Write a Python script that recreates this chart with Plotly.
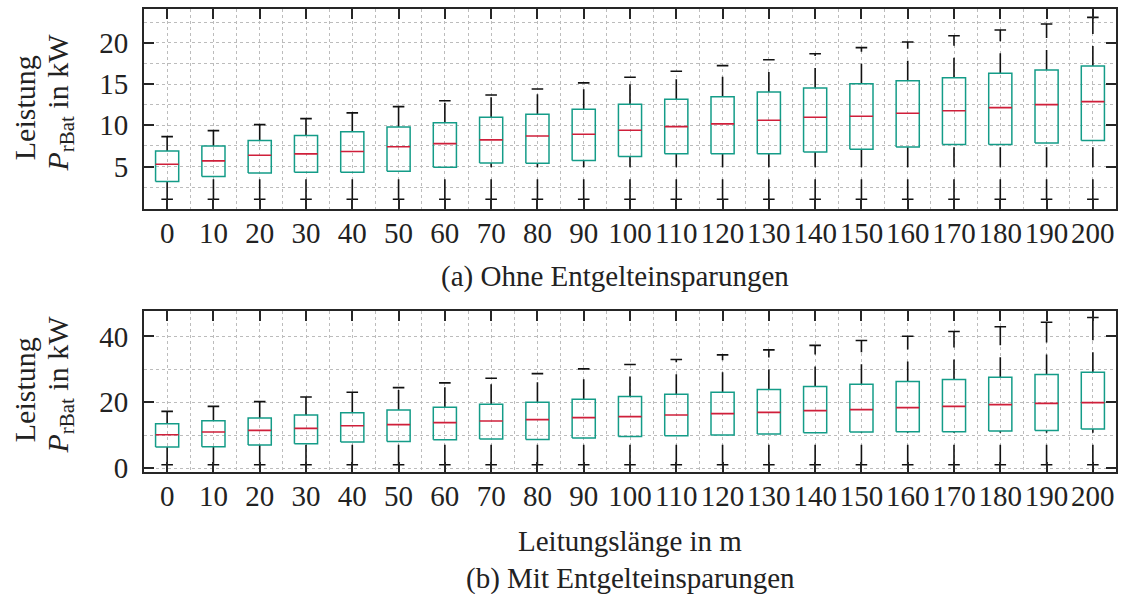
import plotly.graph_objects as go

# Leitungslänge in m
lengths = [0, 10, 20, 30, 40, 50, 60, 70, 80, 90, 100,
           110, 120, 130, 140, 150, 160, 170, 180, 190, 200]

# (a) Ohne Entgelteinsparungen – Boxplot-Kennwerte P_rBat in kW
a_low = [1.05] * 21
a_q1 = [3.19, 3.79, 4.23, 4.32, 4.32, 4.44, 4.93, 5.45, 5.41, 5.73, 6.21,
        6.54, 6.54, 6.54, 6.78, 7.10, 7.38, 7.66, 7.66, 7.87, 8.15]
a_med = [5.29, 5.69, 6.38, 6.54, 6.82, 7.40, 7.78, 8.23, 8.71, 8.92, 9.40,
         9.84, 10.17, 10.61, 10.97, 11.09, 11.46, 11.77, 12.14, 12.50, 12.86]
a_q3 = [6.90, 7.50, 8.15, 8.75, 9.23, 9.80, 10.32, 10.97, 11.34, 11.94, 12.55,
        13.15, 13.47, 14.02, 14.52, 15.02, 15.40, 15.77, 16.30, 16.70, 17.18]
a_high = [8.63, 9.36, 10.08, 10.81, 11.50, 12.26, 12.98, 13.67, 14.40, 15.13, 15.81,
          16.54, 17.22, 17.93, 18.67, 19.40, 20.08, 20.85, 21.54, 22.26, 23.07]

# (b) Mit Entgelteinsparungen – Boxplot-Kennwerte P_rBat in kW
b_low = [1.0] * 21
b_q1 = [6.40, 6.49, 7.00, 7.40, 7.92, 8.10, 8.62, 8.83, 8.71, 9.14, 9.63,
        9.84, 10.05, 10.36, 10.75, 10.96, 11.06, 11.06, 11.27, 11.45, 11.88]
b_med = [10.14, 10.96, 11.46, 12.07, 12.88, 13.19, 13.80, 14.32, 14.71, 15.32, 15.63,
         16.14, 16.54, 16.94, 17.45, 17.76, 18.37, 18.76, 19.28, 19.68, 19.89]
b_q3 = [13.49, 14.41, 15.23, 16.14, 16.84, 17.66, 18.46, 19.37, 19.98, 20.90, 21.72,
        22.42, 23.03, 23.85, 24.80, 25.46, 26.29, 26.90, 27.60, 28.42, 29.12]
b_high = [17.24, 18.76, 20.20, 21.62, 23.04, 24.46, 25.89, 27.29, 28.72, 30.15, 31.47,
          32.99, 34.42, 35.94, 37.30, 38.78, 40.09, 41.52, 42.95, 44.35, 45.78]

x_ticks = lengths
y_ticks_a = [5, 10, 15, 20]
y_ticks_b = [0, 20, 40]

FONT = "Liberation Serif, Times New Roman, serif"
TEXT_COLOR = "#222222"
BOX_COLOR = "#149c88"
MED_COLOR = "#cf1f3a"
WHISK_COLOR = "#111111"
AXIS_COLOR = "#262626"
GRID_COLOR = "#bcbcbc"
HALF_BOX = 2.5
HALF_CAP = 1.25

fig = go.Figure()


def add_boxes(xs, low, q1, med, q3, high, xa, ya):
    bx, by, mx, my = [], [], [], []
    wx, wy, cx, cy = [], [], [], []
    for c, lo, a, m, b, hi in zip(xs, low, q1, med, q3, high):
        bx += [c - HALF_BOX, c + HALF_BOX, c + HALF_BOX, c - HALF_BOX, c - HALF_BOX, None]
        by += [a, a, b, b, a, None]
        mx += [c - HALF_BOX, c + HALF_BOX, None]
        my += [m, m, None]
        wx += [c, c, None, c, c, None]
        wy += [lo, a, None, b, hi, None]
        cx += [c - HALF_CAP, c + HALF_CAP, None, c - HALF_CAP, c + HALF_CAP, None]
        cy += [lo, lo, None, hi, hi, None]
    common = dict(mode="lines", hoverinfo="skip", showlegend=False, xaxis=xa, yaxis=ya)
    fig.add_trace(go.Scatter(x=wx, y=wy, line=dict(color=WHISK_COLOR, width=1.6, dash="20px,12px"), **common))
    fig.add_trace(go.Scatter(x=cx, y=cy, line=dict(color=WHISK_COLOR, width=1.6), **common))
    fig.add_trace(go.Scatter(x=bx, y=by, line=dict(color=BOX_COLOR, width=1.5), **common))
    fig.add_trace(go.Scatter(x=mx, y=my, line=dict(color=MED_COLOR, width=1.6), **common))


add_boxes(lengths, a_low, a_q1, a_med, a_q3, a_high, "x", "y")
add_boxes(lengths, b_low, b_q1, b_med, b_q3, b_high, "x2", "y2")


def tick_font():
    return dict(family=FONT, size=29, color=TEXT_COLOR)


def x_axis(anchor, standoff):
    return dict(
        anchor=anchor, domain=[0, 1],
        range=[-5, 205], tickmode="array", tickvals=x_ticks,
        ticktext=[str(v) for v in x_ticks],
        ticks="inside", ticklen=10, tickwidth=2, tickcolor=AXIS_COLOR,
        showline=True, linecolor=AXIS_COLOR, linewidth=2, mirror="ticks",
        showgrid=True, griddash="dot", gridcolor=GRID_COLOR, gridwidth=1,
        minor=dict(dtick=5, tick0=0, showgrid=True, griddash="dot",
                   gridcolor=GRID_COLOR, gridwidth=1),
        zeroline=False, tickfont=tick_font(), ticklabelstandoff=standoff,
    )


def y_axis(anchor, domain, rng, tickvals, minor_step):
    return dict(
        anchor=anchor, domain=domain, range=rng,
        tickmode="array", tickvals=tickvals, ticktext=[str(v) for v in tickvals],
        ticks="inside", ticklen=10, tickwidth=2, tickcolor=AXIS_COLOR,
        showline=True, linecolor=AXIS_COLOR, linewidth=2, mirror="ticks",
        showgrid=True, griddash="dot", gridcolor=GRID_COLOR, gridwidth=1,
        minor=dict(dtick=minor_step, tick0=0, showgrid=True, griddash="dot",
                   gridcolor=GRID_COLOR, gridwidth=1),
        zeroline=False, tickfont=tick_font(), ticklabelstandoff=8,
    )


fig.update_layout(
    width=1124, height=594,
    margin=dict(l=144, r=6, t=9, b=122),
    paper_bgcolor="white", plot_bgcolor="white",
    font=dict(family=FONT, color=TEXT_COLOR, size=28),
    xaxis=x_axis("y", -2),
    xaxis2=x_axis("y2", -3),
    yaxis=y_axis("x", [0.569, 1.0], [-0.08, 24.08], y_ticks_a, 2.5),
    yaxis2=y_axis("x2", [0.0, 0.3488], [-1.2, 47.9], y_ticks_b, 10),
)

PLOT_W = 1124 - 144 - 6
PLOT_H = 594 - 9 - 122


def px_x(px):
    return (px - 144) / PLOT_W


def px_y(py):
    return (594 - 122 - py) / PLOT_H


label_font = dict(family=FONT, size=30, color=TEXT_COLOR)
cap_font = dict(family=FONT, size=29, color=TEXT_COLOR)

for ymid in (px_y(108), px_y(390)):
    fig.add_annotation(x=px_x(24), y=ymid, xref="paper", yref="paper", text="Leistung",
                       textangle=-90, showarrow=False, font=label_font,
                       xanchor="center", yanchor="middle")
    fig.add_annotation(x=px_x(60), y=ymid + 0.012, xref="paper", yref="paper",
                       text="<i>P</i><sub>rBat</sub> in kW",
                       textangle=-90, showarrow=False, font=label_font,
                       xanchor="center", yanchor="middle")

fig.add_annotation(x=px_x(616), y=px_y(276), xref="paper", yref="paper",
                   text="(a) Ohne Entgelteinsparungen", showarrow=False, font=cap_font,
                   xanchor="center", yanchor="middle")
fig.add_annotation(x=0.5, y=px_y(541), xref="paper", yref="paper",
                   text="Leitungslänge in m", showarrow=False, font=cap_font,
                   xanchor="center", yanchor="middle")
fig.add_annotation(x=0.5, y=px_y(578), xref="paper", yref="paper",
                   text="(b) Mit Entgelteinsparungen", showarrow=False, font=cap_font,
                   xanchor="center", yanchor="middle")

fig.write_html("out.html")
